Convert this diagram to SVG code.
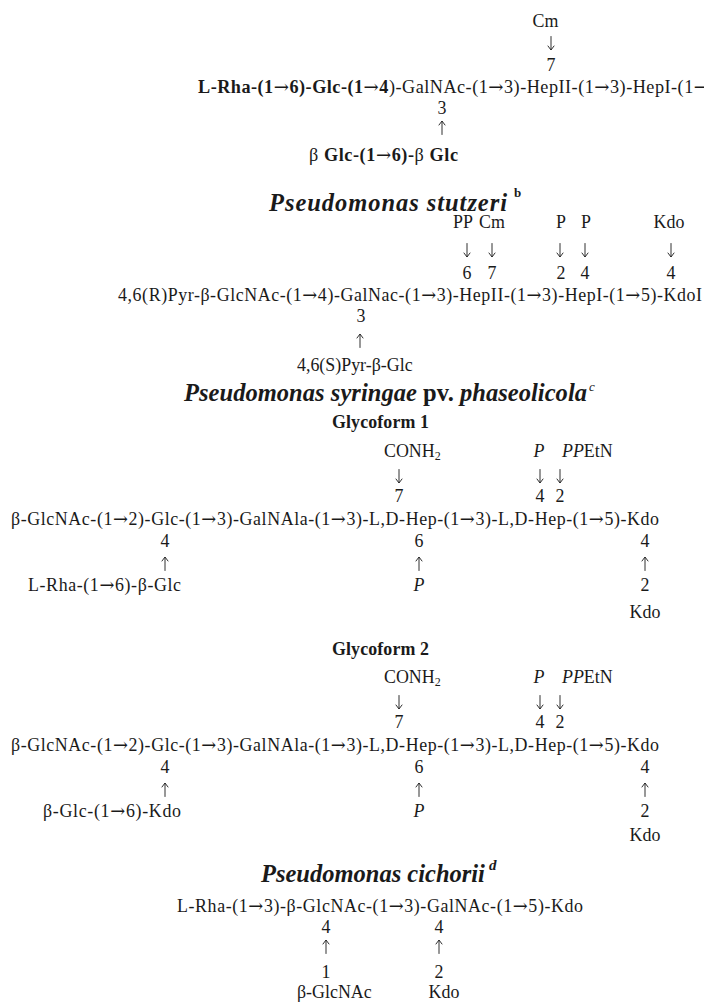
<svg xmlns="http://www.w3.org/2000/svg" width="704" height="1003" viewBox="0 0 704 1003">
<style>
text{font-family:"Liberation Serif","DejaVu Serif",serif;font-size:17.9px;fill:#1a1a1a}
.b{font-weight:bold}
.i{font-style:italic}
.t{font-weight:bold;font-style:italic;font-size:24.5px}
.m{text-anchor:middle}
.sup{font-size:13px}
.sub{font-size:12px}
.a{font-family:"DejaVu Serif",serif;font-weight:normal}
.arr{fill:none;stroke:#1a1a1a;stroke-width:0.9;stroke-linecap:round;stroke-linejoin:round}
</style>
<defs>
  <path id="dn" class="arr" d="M0,-6.5 V6.5 M-3,3 L0,7 L3,3"/>
  <path id="up" class="arr" d="M0,6.5 V-6.5 M-3,-3 L0,-7 L3,-3"/>
</defs>
<rect width="704" height="1003" fill="#ffffff"/>

<g id="section-aeruginosa">
  <text class="m" x="545.5" y="27">Cm</text>
  <text class="m" x="551" y="71">7</text>
  <text x="198" y="93" textLength="511" style="font-size:18.2px"><tspan class="b">L-Rha-(1<tspan class="a">→</tspan>6)-Glc-(1<tspan class="a">→</tspan>4</tspan>)-GalNAc-(1<tspan class="a">→</tspan>3)-HepII-(1<tspan class="a">→</tspan>3)-HepI-(1<tspan class="a">→</tspan></text>
  <text class="m" x="442" y="114">3</text>
  <text x="309" y="161" textLength="149" style="font-size:18.2px">β <tspan class="b">Glc-(1<tspan class="a">→</tspan>6)-</tspan>β <tspan class="b">Glc</tspan></text>
</g>

<g id="section-stutzeri">
  <text class="t" x="269" y="211" textLength="238">Pseudomonas stutzeri</text>
  <text class="b sup" x="514" y="197">b</text>
  <text class="m" x="463" y="228">PP</text>
  <text class="m" x="492" y="228">Cm</text>
  <text class="m" x="561" y="228">P</text>
  <text class="m" x="586" y="228">P</text>
  <text class="m" x="669" y="228">Kdo</text>
  <text class="m" x="467" y="279">6</text>
  <text class="m" x="492" y="279">7</text>
  <text class="m" x="561" y="279">2</text>
  <text class="m" x="585" y="279">4</text>
  <text class="m" x="671" y="279">4</text>
  <text x="118" y="301" textLength="584">4,6(R)Pyr-β-GlcNAc-(1<tspan class="a">→</tspan>4)-GalNac-(1<tspan class="a">→</tspan>3)-HepII-(1<tspan class="a">→</tspan>3)-HepI-(1<tspan class="a">→</tspan>5)-KdoI</text>
  <text class="m" x="361" y="322">3</text>
  <text x="297" y="371">4,6(S)Pyr-β-Glc</text>
</g>

<g id="section-syringae">
  <text class="t" x="184" y="401" textLength="403">Pseudomonas syringae <tspan style="font-style:normal">pv.</tspan> phaseolicola</text>
  <text class="i sup" x="589" y="391">c</text>
</g>

<g id="glycoform-1">
  <text class="b" x="332" y="428" textLength="97">Glycoform 1</text>
  <text x="384" y="457">CONH<tspan class="sub" dy="3">2</tspan></text>
  <text class="i m" x="539" y="457">P</text>
  <text x="562" y="457"><tspan class="i">PP</tspan>EtN</text>
  <text class="m" x="399" y="502">7</text>
  <text class="m" x="540" y="502">4</text>
  <text class="m" x="560" y="502">2</text>
  <text x="11" y="525" textLength="648">β-GlcNAc-(1<tspan class="a">→</tspan>2)-Glc-(1<tspan class="a">→</tspan>3)-GalNAla-(1<tspan class="a">→</tspan>3)-L,D-Hep-(1<tspan class="a">→</tspan>3)-L,D-Hep-(1<tspan class="a">→</tspan>5)-Kdo</text>
  <text class="m" x="165" y="547">4</text>
  <text class="m" x="419" y="547">6</text>
  <text class="m" x="645" y="547">4</text>
  <text x="28" y="591" textLength="153">L-Rha-(1<tspan class="a">→</tspan>6)-β-Glc</text>
  <text class="i m" x="419" y="591">P</text>
  <text class="m" x="645" y="591">2</text>
  <text class="m" x="645" y="618">Kdo</text>
</g>

<g id="glycoform-2">
  <text class="b" x="332" y="655" textLength="97">Glycoform 2</text>
  <text x="384" y="683">CONH<tspan class="sub" dy="3">2</tspan></text>
  <text class="i m" x="539" y="683">P</text>
  <text x="562" y="683"><tspan class="i">PP</tspan>EtN</text>
  <text class="m" x="399" y="728">7</text>
  <text class="m" x="540" y="728">4</text>
  <text class="m" x="560" y="728">2</text>
  <text x="11" y="751" textLength="648">β-GlcNAc-(1<tspan class="a">→</tspan>2)-Glc-(1<tspan class="a">→</tspan>3)-GalNAla-(1<tspan class="a">→</tspan>3)-L,D-Hep-(1<tspan class="a">→</tspan>3)-L,D-Hep-(1<tspan class="a">→</tspan>5)-Kdo</text>
  <text class="m" x="165" y="773">4</text>
  <text class="m" x="419" y="773">6</text>
  <text class="m" x="645" y="773">4</text>
  <text x="43" y="817" textLength="138">β-Glc-(1<tspan class="a">→</tspan>6)-Kdo</text>
  <text class="i m" x="419" y="817">P</text>
  <text class="m" x="645" y="817">2</text>
  <text class="m" x="645" y="841">Kdo</text>
</g>

<g id="section-cichorii">
  <text class="t" x="261" y="882">Pseudomonas cichorii</text>
  <text class="t sup" x="489" y="870" style="font-size:15px">d</text>
  <text x="177" y="912" textLength="406">L-Rha-(1<tspan class="a">→</tspan>3)-β-GlcNAc-(1<tspan class="a">→</tspan>3)-GalNAc-(1<tspan class="a">→</tspan>5)-Kdo</text>
  <text class="m" x="326" y="933">4</text>
  <text class="m" x="439" y="933">4</text>
  <text class="m" x="326" y="978">1</text>
  <text class="m" x="439" y="978">2</text>
  <text x="297" y="998">β-GlcNAc</text>
  <text class="m" x="444" y="998">Kdo</text>
</g>

<g id="connectors">
  <use href="#dn" x="551" y="43"/>
  <use href="#up" x="442" y="128"/>
  <use href="#dn" x="467" y="250"/>
  <use href="#dn" x="492" y="250"/>
  <use href="#dn" x="560" y="250"/>
  <use href="#dn" x="585" y="250"/>
  <use href="#dn" x="671" y="250"/>
  <use href="#up" x="360" y="341"/>
  <use href="#dn" x="399" y="476"/>
  <use href="#dn" x="540" y="476"/>
  <use href="#dn" x="560" y="476"/>
  <use href="#up" x="165" y="564"/>
  <use href="#up" x="419" y="564"/>
  <use href="#up" x="645" y="564"/>
  <use href="#dn" x="399" y="702"/>
  <use href="#dn" x="540" y="702"/>
  <use href="#dn" x="560" y="702"/>
  <use href="#up" x="165" y="790"/>
  <use href="#up" x="419" y="790"/>
  <use href="#up" x="645" y="790"/>
  <use href="#up" x="326" y="947"/>
  <use href="#up" x="439" y="947"/>
</g>
</svg>
